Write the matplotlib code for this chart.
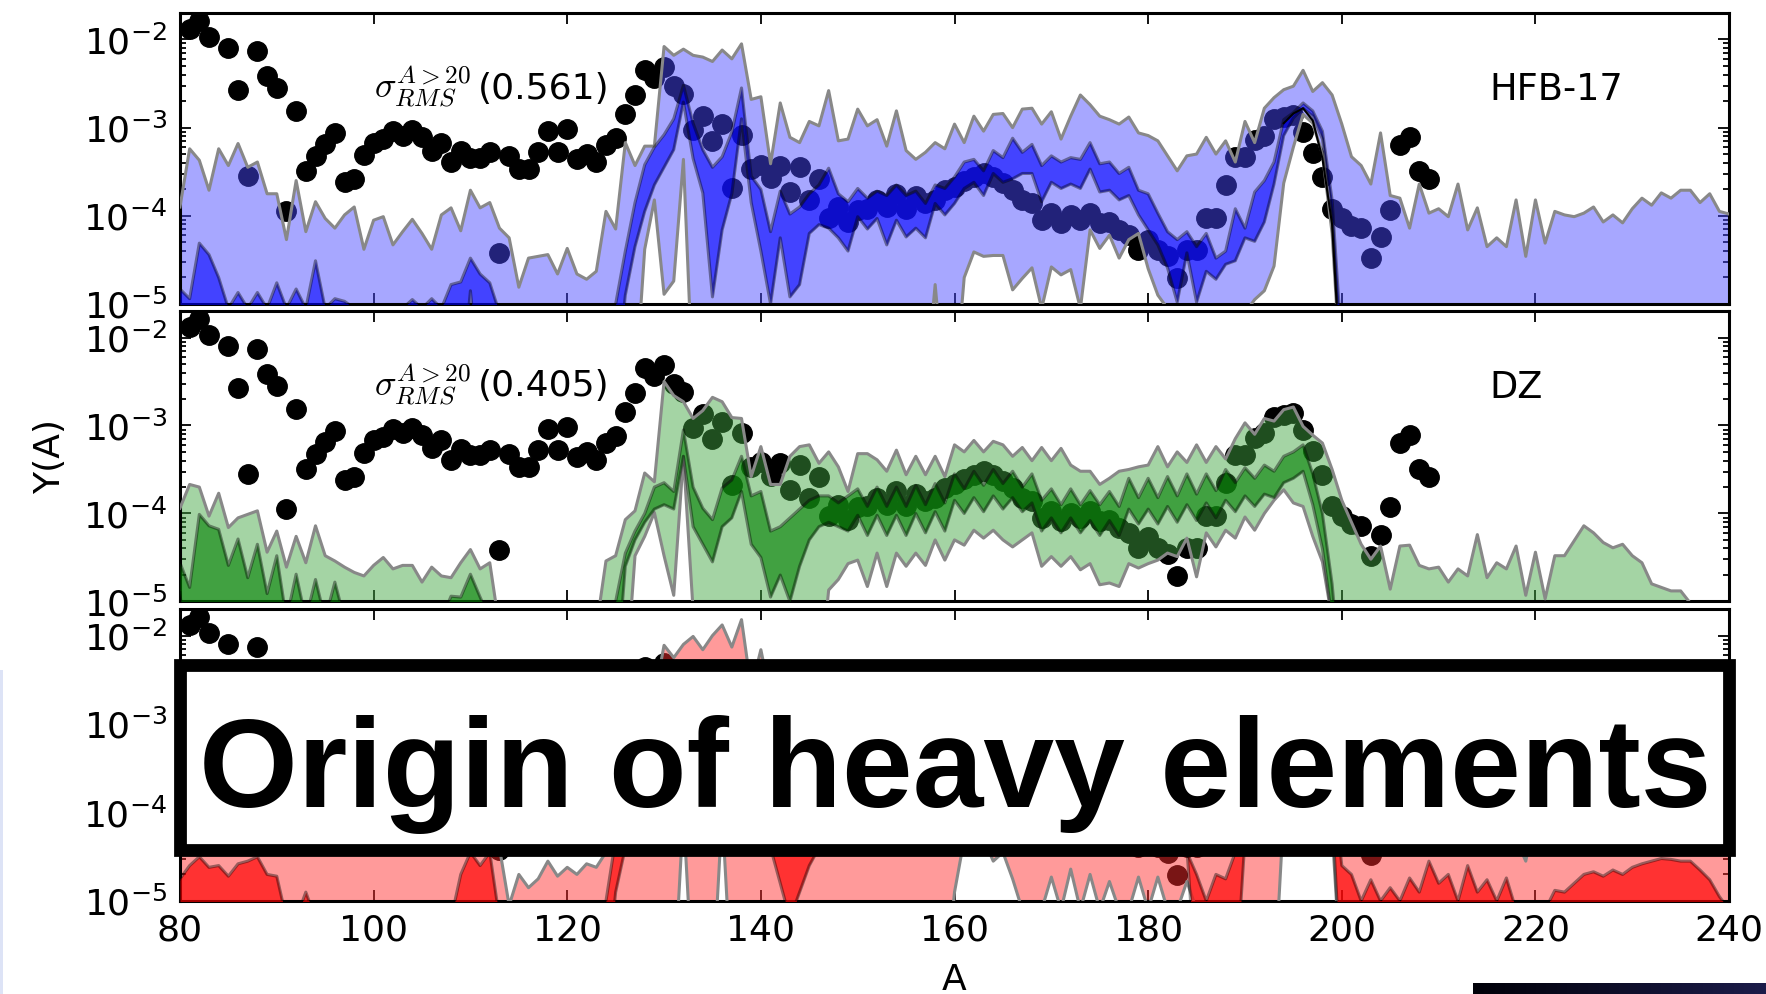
import numpy as np
import matplotlib.pyplot as plt
from matplotlib.patches import Rectangle
from matplotlib.colors import LinearSegmentedColormap

plt.rcParams['mathtext.fontset'] = 'cm'
plt.rcParams['axes.unicode_minus'] = False
plt.rcParams['font.family'] = ['DejaVu Sans']

# mass number grid of the model bands
A = np.arange(80, 241)

# solar r-process abundances (log10 Y)
sol_A = [81, 82, 83, 85, 86, 87, 88, 89, 90, 91, 92, 93, 94, 95, 96, 97, 98, 99,
         100, 101, 102, 103, 104, 105, 106, 107, 108, 109, 110, 111, 112, 113, 114,
         115, 116, 117, 118, 119, 120, 121, 122, 123, 124, 125, 126, 127, 128, 129,
         130, 131, 132, 133, 134, 135, 136, 137, 138, 139, 140, 141, 142, 143, 144,
         145, 146, 147, 148, 149, 150, 151, 152, 153, 154, 155, 156, 157, 158, 159,
         160, 161, 162, 163, 164, 165, 166, 167, 168, 169, 170, 171, 172, 173, 174,
         175, 176, 177, 178, 179, 180, 181, 182, 183, 184, 185, 186, 187, 188, 189,
         190, 191, 192, 193, 194, 195, 196, 197, 198, 199, 200, 201, 202, 203, 204,
         205, 206, 207, 208, 209]
sol_logY = [-1.88, -1.79, -1.97, -2.10, -2.57, -3.55, -2.13, -2.42, -2.55, -3.95,
            -2.81, -3.49, -3.32, -3.19, -3.06, -3.62, -3.58, -3.31, -3.17, -3.13,
            -3.04, -3.09, -3.03, -3.11, -3.26, -3.17, -3.39, -3.27, -3.34, -3.34,
            -3.28, -4.42, -3.32, -3.47, -3.47, -3.28, -3.04, -3.28, -3.02, -3.36,
            -3.30, -3.39, -3.20, -3.12, -2.85, -2.63, -2.35, -2.44, -2.31, -2.53,
            -2.62, -3.03, -2.87, -3.15, -2.96, -3.68, -3.08, -3.47, -3.42, -3.57,
            -3.43, -3.73, -3.45, -3.82, -3.58, -4.03, -3.90, -4.07, -3.93, -3.92,
            -3.82, -3.90, -3.75, -3.92, -3.78, -3.86, -3.82, -3.71, -3.67, -3.61,
            -3.56, -3.52, -3.56, -3.63, -3.71, -3.82, -3.86, -4.05, -3.97, -4.08,
            -3.99, -4.05, -3.97, -4.08, -4.07, -4.16, -4.22, -4.39, -4.27, -4.39,
            -4.46, -4.71, -4.39, -4.39, -4.03, -4.03, -3.65, -3.33, -3.33, -3.14,
            -3.09, -2.90, -2.88, -2.86, -3.05, -3.29, -3.56, -3.92, -4.03, -4.12,
            -4.14, -4.48, -4.24, -3.93, -3.20, -3.11, -3.49, -3.58]

# HFB-17: outer (light) and inner (dark) bands, log10 Y for A = 80..240
hfb_out_hi = [-3.90, -3.24, -3.37, -3.71, -3.24, -3.43, -3.18, -3.45, -3.39, -3.75,
              -3.75, -4.27, -3.60, -4.18, -3.84, -4.03, -4.14, -3.99, -3.90, -4.38,
              -4.05, -4.01, -4.33, -4.18, -4.04, -4.20, -4.38, -3.99, -3.91, -4.17,
              -3.71, -3.91, -3.85, -4.14, -4.25, -4.81, -4.48, -4.46, -4.44, -4.66,
              -4.37, -4.66, -4.72, -4.63, -3.95, -4.15, -3.17, -3.43, -3.21, -3.21,
              -2.08, -2.18, -2.11, -2.18, -2.20, -2.25, -2.12, -2.22, -2.05, -2.68,
              -2.65, -3.41, -2.72, -3.11, -3.17, -2.93, -2.98, -2.58, -3.15, -3.13,
              -2.79, -2.98, -2.91, -3.21, -2.81, -3.26, -3.36, -3.28, -3.17, -3.24,
              -2.96, -3.17, -2.87, -3.04, -2.85, -2.84, -3.00, -2.79, -2.78, -2.96,
              -2.82, -3.13, -2.87, -2.63, -2.74, -2.87, -2.91, -2.96, -2.88, -3.06,
              -3.09, -3.15, -3.32, -3.49, -3.32, -3.30, -3.11, -3.30, -3.15, -3.39,
              -2.93, -3.17, -2.78, -2.66, -2.57, -2.53, -2.35, -2.59, -2.49, -2.63,
              -2.96, -3.33, -3.43, -3.64, -3.06, -3.77, -3.80, -4.14, -3.64, -3.97,
              -3.92, -4.01, -3.64, -4.16, -3.91, -4.35, -4.25, -4.35, -3.82, -4.46,
              -3.82, -4.31, -3.95, -3.99, -4.01, -3.97, -3.90, -4.07, -3.99, -4.08,
              -3.92, -3.80, -3.88, -3.74, -3.80, -3.71, -3.71, -3.85, -3.75, -3.95,
              -3.98]
hfb_out_lo = ([-6.0] * 48 +
              [-4.38, -3.82, -4.89, -4.74, -3.36] +
              [-6.0] * 25 +
              [-4.78, -6.0, -6.0, -4.70, -4.41, -4.46, -4.45, -4.45, -4.84, -4.71,
               -4.59, -5.05, -4.58, -4.67, -4.61, -5.05, -4.16, -4.37, -4.22, -4.48,
               -4.27, -4.20, -4.60, -4.90, -5.05] +
              [-6.0] * 7 +
              [-5.10, -4.95, -4.85, -4.57, -3.63, -3.22, -2.85, -2.95, -3.30, -4.20] +
              [-6.0] * 41)
hfb_in_hi = ([-4.83, -4.94, -4.31, -4.44, -4.70, -5.05, -4.87, -5.05, -4.87, -5.05,
              -4.76, -5.05, -4.83, -5.05, -4.51, -5.05, -4.94, -4.97, -5.05, -5.05,
              -5.05, -5.05, -5.05, -5.05, -4.95, -5.05, -4.94, -5.05, -4.78, -4.75,
              -4.48, -4.66, -4.76, -5.10] +
             [-6.0] * 11 +
             [-5.00, -4.40, -3.85, -3.42, -3.22,
              -3.08, -2.90, -2.52, -2.95, -3.25, -3.45, -3.33, -3.05, -2.55, -3.55,
              -3.70, -4.18, -3.72, -3.98, -3.90, -3.75, -3.65, -3.46, -3.75, -3.84,
              -3.69, -3.80, -3.72, -3.77, -3.65, -3.77, -3.72, -3.86, -3.65, -3.69,
              -3.56, -3.39, -3.36, -3.49, -3.26, -3.34, -3.12, -3.28, -3.19, -3.43,
              -3.32, -3.39, -3.34, -3.36, -3.17, -3.41, -3.39, -3.52, -3.45, -3.71,
              -3.75, -3.97, -4.18, -4.27, -4.18, -4.35, -4.20, -4.48, -4.40, -3.92,
              -4.14, -3.73, -3.60, -3.39, -2.91, -2.83, -2.72, -2.81, -3.04, -3.82,
              -5.50] +
             [-6.0] * 40)
hfb_in_lo = ([-5.2] + [-6.0] * 29 + [-4.85] + [-6.0] * 15 +
             [-4.90, -4.35, -3.95, -3.65,
              -3.45, -3.25, -2.71, -3.35, -3.74, -4.92, -4.16, -3.75, -2.90, -3.85,
              -4.40, -5.00, -4.25, -4.92, -4.78, -4.20, -4.10, -4.14, -4.25, -4.40,
              -4.01, -4.15, -4.03, -4.33, -4.05, -4.24, -4.14, -4.25, -3.86, -3.99,
              -3.86, -3.69, -3.62, -3.77, -3.52, -3.62, -3.58, -3.52, -3.52, -3.84,
              -3.62, -3.69, -3.64, -3.69, -3.47, -3.73, -3.71, -3.82, -3.77, -3.99,
              -4.16, -4.33, -4.59, -4.98, -4.42, -4.98, -4.63, -4.72, -4.55, -4.51,
              -4.25, -4.29, -4.07, -3.64, -3.09, -2.89, -2.78, -2.87, -3.13, -3.99] +
             [-6.0] * 41)
# thin HFB-17 curve on the falling edge of the third peak
hfb_line_A = [194, 195, 196, 197, 198, 199, 200]
hfb_line = [-2.95, -2.84, -2.78, -2.92, -3.35, -4.10, -6.0]

# DZ bands
dz_out_hi = [-3.94, -3.67, -3.70, -4.03, -3.77, -4.16, -4.05, -4.01, -3.97, -4.44,
             -4.20, -4.61, -4.26, -4.56, -4.14, -4.48, -4.54, -4.61, -4.67, -4.71,
             -4.59, -4.50, -4.63, -4.59, -4.59, -4.78, -4.61, -4.71, -4.73, -4.56,
             -4.41, -4.63, -4.56, -5.30, -6.00, -6.00, -6.00, -6.00, -6.00, -6.00,
             -6.00, -6.00, -6.00, -5.30, -4.54, -4.48, -4.07, -3.97, -3.54, -3.64,
             -2.50, -2.66, -2.73, -2.92, -2.83, -2.68, -2.73, -2.91, -2.92, -3.58,
             -3.24, -3.67, -3.67, -3.35, -3.24, -3.22, -3.43, -3.30, -3.47, -3.75,
             -3.32, -3.32, -3.39, -3.52, -3.28, -3.56, -3.35, -3.56, -3.35, -3.58,
             -3.22, -3.30, -3.17, -3.30, -3.18, -3.22, -3.35, -3.25, -3.40, -3.25,
             -3.40, -3.26, -3.45, -3.52, -3.52, -3.67, -3.60, -3.52, -3.50, -3.47,
             -3.45, -3.24, -3.47, -3.30, -3.42, -3.22, -3.42, -3.24, -3.38, -3.15,
             -2.97, -3.10, -2.92, -2.95, -2.82, -2.79, -3.01, -3.11, -3.20, -3.50,
             -3.85, -4.10, -4.35, -4.52, -4.37, -4.86, -4.37, -4.36, -4.59, -4.63,
             -4.61, -4.78, -4.63, -4.71, -4.24, -4.73, -4.56, -4.63, -4.37, -4.93,
             -4.44, -4.97, -4.48, -4.48, -4.31, -4.14, -4.22, -4.33, -4.39, -4.35,
             -4.48, -4.56, -4.80, -4.84, -4.88, -4.88, -5.02, -5.10, -5.20, -5.30,
             -5.40]
dz_out_lo = ([-6.0] * 47 +
             [-4.48, -4.26, -3.99, -4.48, -4.93, -3.35, -5.10] +
             [-6.0] * 13 +
             [-4.87, -4.75, -4.57,
              -4.53, -4.83, -4.45, -4.83, -4.45, -4.60, -4.45, -4.59, -4.30, -4.53,
              -4.30, -4.36, -4.19, -4.28, -4.19, -4.30, -4.38, -4.30, -4.22, -4.60,
              -4.49, -4.60, -4.49, -4.64, -4.57, -4.81, -4.79, -4.83, -4.57, -4.62,
              -4.57, -4.53, -4.45, -4.49, -4.28, -4.72, -4.22, -4.38, -4.19, -4.28,
              -4.04, -4.19, -4.00, -3.85, -3.73, -3.88, -3.92, -4.26, -4.55, -5.20] +
             [-6.0] * 41)
dz_in_hi = ([-4.56, -4.84, -4.01, -4.14, -4.18, -4.59, -4.29, -4.73, -4.35, -4.91,
             -4.48, -5.20, -4.69, -5.20, -4.75, -5.20, -4.78, -5.20, -5.10, -5.20,
             -5.20, -5.10, -5.20, -5.20, -5.20, -5.20, -5.20, -5.20, -4.94, -4.95,
             -4.69, -4.95, -5.20] +
            [-6.0] * 12 +
            [-5.00, -4.45, -4.20, -4.00, -3.70,
             -3.65, -3.75, -3.05, -3.70, -3.94, -4.07, -3.71, -3.62, -3.35, -3.80,
             -3.75, -4.20, -4.15, -4.05, -3.95, -3.85, -3.80, -3.80, -3.88, -3.80,
             -3.72, -3.92, -3.70, -3.92, -3.70, -3.92, -3.68, -3.90, -3.66, -3.88,
             -3.55, -3.72, -3.52, -3.68, -3.50, -3.66, -3.52, -3.70, -3.55, -3.85,
             -3.72, -3.90, -3.72, -3.90, -3.74, -3.90, -3.75, -3.92, -3.60, -3.82,
             -3.60, -3.82, -3.58, -3.80, -3.55, -3.78, -3.55, -3.74, -3.50, -3.65,
             -3.48, -3.60, -3.45, -3.52, -3.35, -3.30, -3.22, -3.55, -4.00, -4.80] +
            [-6.0] * 41)
dz_in_lo = ([-4.9] + [-6.0] * 45 +
            [-4.60, -4.30, -4.10, -3.95,
             -3.90, -3.95, -3.35, -4.15, -4.35, -4.55, -4.15, -4.05, -3.75, -4.35,
             -4.50, -4.95, -4.70, -5.00, -4.60, -4.30, -4.15, -4.10, -4.15, -4.20,
             -4.02, -4.25, -4.02, -4.25, -4.02, -4.25, -4.00, -4.22, -3.98, -4.20,
             -3.85, -4.00, -3.82, -3.98, -3.80, -3.95, -3.82, -3.98, -3.88, -4.20,
             -4.05, -4.22, -4.05, -4.22, -4.08, -4.25, -4.08, -4.25, -3.95, -4.12,
             -3.95, -4.12, -3.92, -4.10, -3.90, -4.08, -3.88, -4.05, -3.85, -3.98,
             -3.80, -3.92, -3.78, -3.82, -3.65, -3.60, -3.52, -3.90, -4.40, -5.20] +
            [-6.0] * 41)

# third mass model bands
m3_out_hi = [-3.80, -3.50, -3.60, -3.90, -3.60, -4.00, -3.80, -3.90, -3.80, -4.20,
             -4.00, -4.30, -4.00, -4.30, -3.90, -4.20, -4.20, -4.30, -4.30, -4.40,
             -4.20, -4.10, -4.30, -4.20, -4.20, -4.40, -4.20, -4.30, -4.20, -4.10,
             -3.90, -4.10, -4.20, -4.40, -5.05, -4.70, -4.85, -4.75, -4.55, -4.72,
             -4.62, -4.70, -4.58, -4.62, -4.45, -4.00, -3.50, -3.20, -2.80, -2.70,
             -2.11, -2.25, -2.10, -2.01, -2.16, -2.00, -1.88, -2.13, -1.82, -2.60,
             -2.16, -2.70, -2.80, -3.00, -3.10, -3.00, -3.20, -3.10, -3.30, -3.40,
             -3.20, -3.30, -3.20, -3.40, -3.20, -3.40, -3.30, -3.40, -3.30, -3.40,
             -3.20, -3.30, -3.10, -3.20, -3.10, -3.20, -3.30, -3.20, -3.30, -3.20,
             -3.30, -3.20, -3.40, -3.30, -3.40, -3.50, -3.40, -3.40, -3.30, -3.30,
             -3.30, -3.10, -3.30, -3.20, -3.30, -3.10, -3.30, -3.10, -3.20, -3.00,
             -2.90, -3.00, -2.80, -2.80, -2.70, -2.60, -2.50, -2.70, -2.80, -3.00,
             -3.30, -3.50, -3.60, -3.80, -3.50, -3.90, -3.90, -4.00, -3.80, -4.00,
             -3.90, -4.10, -3.80, -4.20, -4.00, -4.20, -4.20, -4.30, -4.30, -4.55,
             -4.00, -4.20, -4.00, -4.10, -4.00, -3.90, -3.80, -3.80, -3.90, -3.80,
             -3.80, -3.70, -3.70, -3.60, -3.60, -3.60, -3.60, -3.70, -3.70, -3.80,
             -3.90]
m3_out_lo = ([-6.0] * 52 + [-4.0] + [-6.0] * 3 + [-4.0] + [-6.0] * 23 +
             [-4.90, -4.30, -4.20, -4.30, -4.55, -4.45, -4.75, -5.10, -5.10, -5.10,
              -4.73, -5.10, -4.64, -5.10, -4.70, -5.10, -4.78, -5.10, -5.10, -4.73,
              -5.10, -4.73, -5.10, -5.10, -4.78, -5.10] +
             [-6.0] * 8 +
             [-4.00, -3.80, -3.60, -3.70, -4.00, -4.20] +
             [-6.0] * 41)
m3_in_hi = [-4.75, -4.60, -4.50, -4.62, -4.60, -4.72, -4.58, -4.55, -4.50, -4.70,
            -4.72, -5.20, -5.20, -4.90, -5.20, -5.20, -5.20, -5.20, -5.20, -5.20,
            -5.20, -5.20, -5.20, -5.20, -5.20, -5.20, -5.20, -5.20, -5.20, -4.70,
            -4.45, -4.60, -4.45, -5.20, -5.50, -5.50, -5.50, -5.50, -5.50, -5.50,
            -5.50, -5.50, -5.50, -5.50, -5.00, -4.30, -3.70, -3.40, -3.20, -3.00,
            -2.90, -2.80, -2.60, -2.90, -3.10, -3.30, -3.10, -2.90, -2.60, -3.20,
            -3.40, -3.70, -3.60, -3.70, -3.60, -3.60, -3.50, -3.50, -3.70, -3.60,
            -3.50, -3.70, -3.50, -3.70, -3.50, -3.70, -3.50, -3.70, -3.50, -3.70,
            -3.40, -3.60, -3.40, -3.60, -3.40, -3.60, -3.50, -3.60, -3.50, -3.70,
            -3.60, -3.70, -3.60, -3.80, -3.70, -3.80, -3.70, -3.90, -3.80, -3.90,
            -4.00, -4.20, -4.30, -4.40, -4.45, -4.70, -5.00, -4.70, -4.75, -4.45,
            -4.00, -3.80, -3.50, -3.20, -2.90, -2.80, -2.70, -2.80, -3.00, -3.60,
            -4.60, -4.70, -5.00, -4.76, -5.00, -4.85, -5.00, -4.74, -4.90, -4.55,
            -4.80, -4.70, -5.00, -4.60, -4.90, -4.76, -5.00, -4.74, -5.10, -5.30,
            -5.30, -5.10, -4.88, -4.90, -4.80, -4.70, -4.67, -4.72, -4.65, -4.70,
            -4.62, -4.58, -4.55, -4.52, -4.53, -4.55, -4.55, -4.65, -4.76, -4.95,
            -5.10]
m3_in_lo = ([-6.0] * 45 +
            [-4.90, -4.40, -4.10, -3.90, -3.70,
             -3.60, -3.50, -3.20, -3.80, -4.00, -4.20, -3.90, -3.80, -3.40, -4.00,
             -4.20, -4.40, -4.80, -5.20, -4.90, -4.60, -4.40, -4.20, -4.30, -4.20,
             -4.10, -4.30, -4.10, -4.30, -4.10, -4.30, -4.10, -4.30, -4.10, -4.30,
             -4.00, -4.10, -4.00, -4.10, -4.00, -4.10, -4.00, -4.20, -4.10, -4.30,
             -4.20, -4.30, -4.20, -4.35, -4.25, -4.35, -4.30, -4.40, -4.30, -4.40,
             -4.30, -4.40, -4.40, -4.40, -4.40, -6.00, -6.00, -6.00, -6.00, -6.00,
             -4.30, -4.20, -4.00, -3.80, -3.40, -3.30, -3.20, -3.30, -3.50, -4.00] +
            [-6.0] * 41)

panels = [
    dict(hi2=hfb_out_hi, lo2=hfb_out_lo, hi1=hfb_in_hi, lo1=hfb_in_lo,
         c2='#4848ff', c1='#0000ff', a1=0.60, rms='0.561', name='HFB-17'),
    dict(hi2=dz_out_hi, lo2=dz_out_lo, hi1=dz_in_hi, lo1=dz_in_lo,
         c2='#41a541', c1='#008000', a1=0.60, rms='0.405', name='DZ'),
    dict(hi2=m3_out_hi, lo2=m3_out_lo, hi1=m3_in_hi, lo1=m3_in_lo,
         c2='#ff2c2c', c1='#ff0000', a1=0.67, rms=None, name=None),
]

fig = plt.figure(figsize=(17.66, 9.94), dpi=100)
rects = [(0.1019, 0.6942, 0.8772, 0.2928),
         (0.1019, 0.3949, 0.8772, 0.2922),
         (0.1019, 0.0936, 0.8772, 0.2938)]

sol_Y = 10.0 ** np.array(sol_logY)
for i, (p, r) in enumerate(zip(panels, rects)):
    ax = fig.add_axes(r)
    ax.set_yscale('log')
    hi2, lo2 = 10.0 ** np.array(p['hi2']), 10.0 ** np.array(p['lo2'])
    hi1, lo1 = 10.0 ** np.array(p['hi1']), 10.0 ** np.array(p['lo1'])

    ax.plot(sol_A, sol_Y, 'o', color='k', ms=14, mec='k', zorder=1)
    ax.fill_between(A, lo2, hi2, color=p['c2'], alpha=0.48, lw=0, zorder=2)
    ax.plot(A, hi2, color='#888888', lw=2.2, zorder=3)
    ax.plot(A, lo2, color='#888888', lw=2.2, zorder=3)
    ax.fill_between(A, lo1, hi1, color=p['c1'], alpha=p['a1'], lw=0, zorder=4)
    ax.plot(A, hi1, color='k', alpha=0.4, lw=2.2, zorder=5)
    ax.plot(A, lo1, color='k', alpha=0.4, lw=2.2, zorder=5)
    if i == 0:
        ax.plot(hfb_line_A, 10.0 ** np.array(hfb_line), color='k', lw=1.5, zorder=6)

    if p['rms']:
        ax.text(100, 10 ** -2.67, r'$\sigma_{RMS}^{A>20}$', fontsize=26,
                ha='left', va='baseline')
        ax.text(110.8, 10 ** -2.67, '(' + p['rms'] + ')', fontsize=26,
                ha='left', va='baseline')
        ax.text(215.2, 10 ** -2.69, p['name'], fontsize=26.5, ha='left', va='baseline')

    ax.set_xlim(80, 240)
    ax.set_ylim(1e-5, 2e-2)
    ax.set_xticks(range(80, 241, 20))
    ax.set_yticks([1e-5, 1e-4, 1e-3, 1e-2])
    ax.tick_params(which='both', direction='in', top=True, right=True, width=1.3)
    ax.tick_params(which='major', length=8, labelsize=26, pad=9)
    ax.tick_params(which='minor', length=4.5)
    for s in ax.spines.values():
        s.set_linewidth(2.2)
    if i < 2:
        ax.tick_params(labelbottom=False)

fig.text(0.0285, 0.541, 'Y(A)', rotation=90, fontsize=26, ha='center', va='center')
fig.text(0.5405, 0.014, 'A', fontsize=26, ha='center', va='center')

# title banner over the lower panel
fig.patches.append(Rectangle((0.1022, 0.1444), 0.8771, 0.1861, transform=fig.transFigure,
                             facecolor='white', edgecolor='black', lw=9.2, zorder=10))
title = fig.text(0.5408, 0.1881, 'Origin of heavy elements', fontsize=92,
                 fontfamily='Liberation Sans', fontweight='bold',
                 ha='center', va='baseline', zorder=11)
fig.canvas.draw()
w = title.get_window_extent().width
title.set_fontsize(92 * 1512 / w)

# slide leftovers at the edges
fig.patches.append(Rectangle((0, 0), 0.0017, 0.326, transform=fig.transFigure,
                             facecolor='#dde3f6', edgecolor='none', zorder=12))
bar = fig.add_axes([0.8341, 0, 0.1659, 0.0111])
bar.imshow(np.linspace(0, 1, 256)[None, :], aspect='auto',
           cmap=LinearSegmentedColormap.from_list('bar', ['#000008', '#1c1c4a']))
bar.axis('off')

fig.savefig('out.png', dpi=100)
